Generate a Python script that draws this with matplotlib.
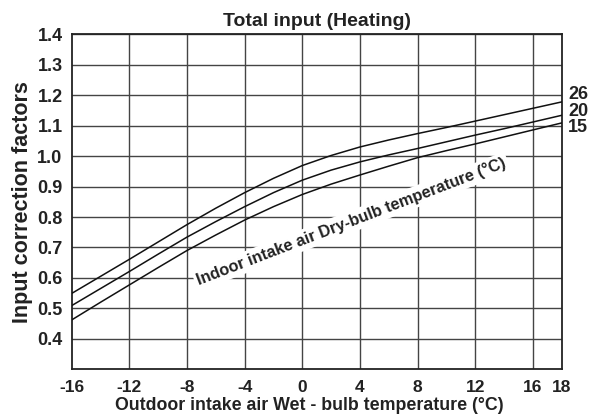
import matplotlib
matplotlib.use("Agg")
import matplotlib.pyplot as plt

plt.rcParams['font.family'] = ['Liberation Sans', 'DejaVu Sans']

# Data
x_wb = [-16, -14, -12, -10, -8, -6, -4, -2, 0, 2, 4, 6, 8, 10, 12, 14, 16, 18]
f_26 = [0.549, 0.605, 0.661, 0.718, 0.775, 0.829, 0.880, 0.927, 0.969, 1.002,
        1.030, 1.053, 1.074, 1.094, 1.115, 1.136, 1.157, 1.178]
f_20 = [0.509, 0.565, 0.621, 0.678, 0.734, 0.785, 0.834, 0.880, 0.921, 0.954,
        0.981, 1.004, 1.025, 1.047, 1.069, 1.090, 1.112, 1.134]
f_15 = [0.462, 0.520, 0.577, 0.634, 0.690, 0.741, 0.790, 0.834, 0.874, 0.908,
        0.938, 0.967, 0.995, 1.018, 1.040, 1.063, 1.086, 1.109]
series_labels = ['26', '20', '15']
x_ticks = [-16, -12, -8, -4, 0, 4, 8, 12, 16, 18]
y_ticks = [0.4, 0.5, 0.6, 0.7, 0.8, 0.9, 1.0, 1.1, 1.2, 1.3, 1.4]

title = 'Total input (Heating)'
xlabel = 'Outdoor intake air Wet - bulb temperature (°C)'
ylabel = 'Input correction factors'
curve_note = 'Indoor intake air Dry-bulb temperature (°C)'

fig = plt.figure(figsize=(5.92, 4.18), dpi=100)
ax = fig.add_axes([0.121, 0.1165, 0.828, 0.8015])

txt_color = '#222222'

for xv in [-12, -8, -4, 0, 4, 8, 12, 16]:
    ax.axvline(xv, color='#444444', lw=1.0, zorder=1)
for yv in y_ticks:
    ax.axhline(yv, color='#444444', lw=1.0, zorder=1)

for ys in (f_26, f_20, f_15):
    ax.plot(x_wb, ys, color='#111111', lw=1.1, zorder=3)

ax.set_xlim(-16, 18)
ax.set_ylim(0.3, 1.4)
ax.set_xticks(x_ticks)
ax.set_xticklabels([str(v) for v in x_ticks])
ax.set_yticks(y_ticks)
ax.set_yticklabels([f'{v:.1f}' for v in y_ticks])
ax.tick_params(axis='x', length=0, labelsize=12.5, colors=txt_color, pad=7.5)
ax.tick_params(axis='y', length=0, labelsize=13, colors=txt_color, pad=6.5)
for lbl in ax.get_xticklabels() + ax.get_yticklabels():
    lbl.set_fontweight('bold')
for sp in ax.spines.values():
    sp.set_color('#222222')
    sp.set_linewidth(1.3)

ax.set_title(title, fontsize=14, fontweight='bold', color=txt_color, pad=6)
ax.set_xlabel(xlabel, fontsize=12.8, fontweight='bold', color=txt_color, labelpad=2)
ax.xaxis.set_label_coords(0.484, -0.084)
ax.xaxis.label.set_va('top')
ax.set_ylabel(ylabel, fontsize=15.5, fontweight='bold', color=txt_color, labelpad=3)

# right-side series labels
label_y = [f_26[-1] + 0.025, f_20[-1] + 0.011, f_15[-1] - 0.014]
for s, yy in zip(series_labels, label_y):
    ax.text(18.45, yy, s, fontsize=13, fontweight='bold', color=txt_color,
            va='center', ha='left', clip_on=False)

ax.text(3.4, 0.785, curve_note, fontsize=11.7, fontweight='bold', color=txt_color,
        rotation=21, rotation_mode='anchor', ha='center', va='center', zorder=4,
        bbox=dict(facecolor='white', edgecolor='none', pad=2))

fig.savefig('out.png', dpi=100)
